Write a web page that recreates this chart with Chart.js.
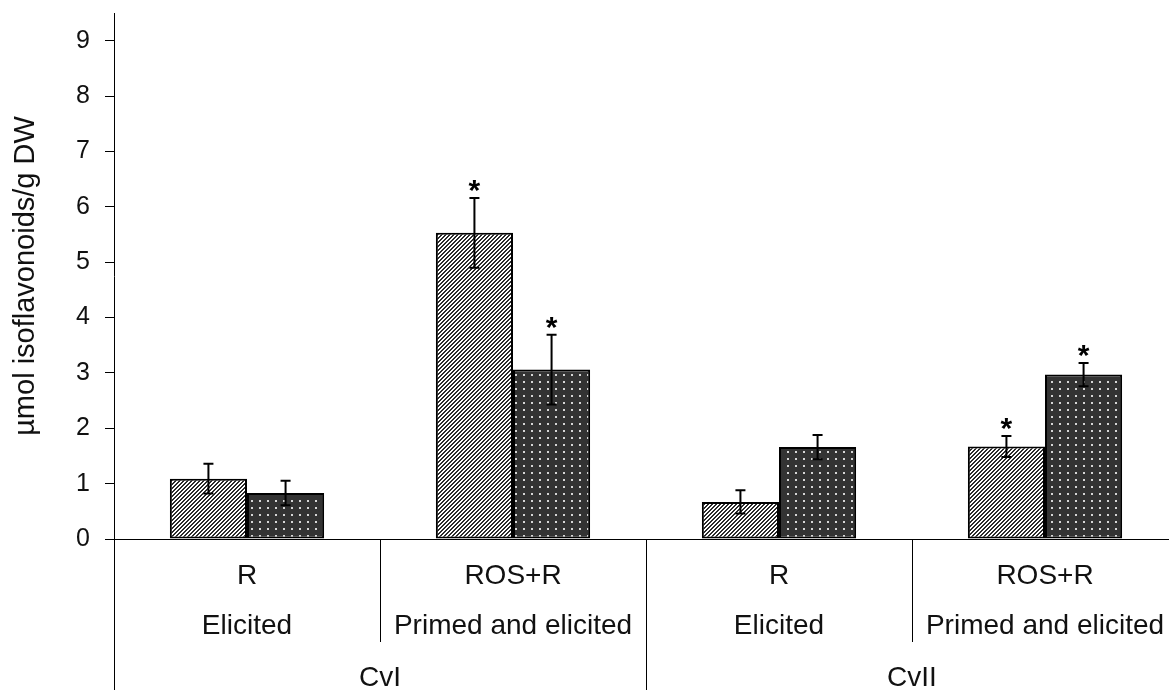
<!DOCTYPE html>
<html><head><meta charset="utf-8">
<script src="https://cdn.jsdelivr.net/npm/chart.js@4"></script>
<style>html,body{margin:0;padding:0;background:#fff;overflow:hidden;width:1169px;height:690px}canvas{display:block}</style>
</head><body>
<canvas id="c" width="1180" height="690" style="width:1180px;height:690px"></canvas>
<script>
const categories = ['R', 'ROS+R', 'R', 'ROS+R'];
const treatments = ['Elicited', 'Primed and elicited', 'Elicited', 'Primed and elicited'];
const cultivars = ['CvI', 'CvII'];
const hatchValues = [1.09, 5.53, 0.67, 1.67];
const hatchErrors = [0.27, 0.63, 0.21, 0.19];
const hatchSignif = [false, true, false, true];
const dotValues = [0.83, 3.06, 1.66, 2.97];
const dotErrors = [0.22, 0.63, 0.22, 0.21];
const dotSignif = [false, true, false, true];
const yTicks = [0, 1, 2, 3, 4, 5, 6, 7, 8, 9];
const yTitle = 'µmol isoflavonoids/g DW';

const FONT = "'Liberation Sans', Arial, sans-serif";

function hatchPattern() {
  const c = document.createElement('canvas'); c.width = 4; c.height = 4;
  const g = c.getContext('2d');
  g.fillStyle = '#fff'; g.fillRect(0, 0, 4, 4);
  g.fillStyle = '#2b2b2b';
  for (let i = 0; i < 4; i++) { g.fillRect(i, 3 - i, 1, 1); g.fillRect((i + 1) % 4, 3 - i, 1, 1); }
  return g.createPattern(c, 'repeat');
}
function dotPattern() {
  const c = document.createElement('canvas'); c.width = 8; c.height = 7;
  const g = c.getContext('2d');
  g.fillStyle = '#333'; g.fillRect(0, 0, 8, 7);
  g.fillStyle = '#d6d6d6'; g.fillRect(3, 3, 2, 2);
  return g.createPattern(c, 'repeat');
}

const errorData = [hatchErrors, dotErrors];
const signifData = [hatchSignif, dotSignif];

const errorPlugin = {
  id: 'errors',
  afterDatasetsDraw(chart) {
    const ctx = chart.ctx, y = chart.scales.y;
    ctx.save();
    chart.data.datasets.forEach((ds, di) => {
      const meta = chart.getDatasetMeta(di);
      meta.data.forEach((el, i) => {
        const v = ds.data[i], e = errorData[di][i];
        const yt = y.getPixelForValue(v + e), yb = y.getPixelForValue(v - e);
        ctx.strokeStyle = '#000'; ctx.lineWidth = 2;
        ctx.beginPath();
        ctx.moveTo(el.x, yt); ctx.lineTo(el.x, yb);
        ctx.moveTo(el.x - 5, yt); ctx.lineTo(el.x + 5, yt);
        ctx.moveTo(el.x - 5, yb); ctx.lineTo(el.x + 5, yb);
        ctx.stroke();
        if (signifData[di][i]) {
          ctx.fillStyle = '#000';
          ctx.font = 'bold 30px ' + FONT;
          ctx.textAlign = 'center'; ctx.textBaseline = 'alphabetic';
          ctx.fillText('*', el.x, yt + 2);
        }
      });
    });
    ctx.restore();
  }
};

const labelPlugin = {
  id: 'grouplabels',
  afterDraw(chart) {
    const ctx = chart.ctx, x = chart.scales.x, ca = chart.chartArea;
    const b = ca.bottom;
    ctx.save();
    ctx.fillStyle = '#111';
    ctx.font = '28px ' + FONT;
    ctx.textAlign = 'center'; ctx.textBaseline = 'alphabetic';
    const centers = categories.map((_, i) => x.getPixelForValue(i));
    categories.forEach((c, i) => ctx.fillText(c, centers[i], b + 45));
    treatments.forEach((t, i) => ctx.fillText(t, centers[i], b + 95));
    cultivars.forEach((c, k) => {
      const cx = (centers[2 * k] + centers[2 * k + 1]) / 2;
      ctx.fillText(c, cx, b + 147);
    });
    ctx.strokeStyle = '#000'; ctx.lineWidth = 1;
    ctx.beginPath();
    ctx.moveTo(ca.left + 0.5, b); ctx.lineTo(ca.left + 0.5, 690);
    for (let k = 1; k < categories.length; k++) {
      const bx = Math.round((centers[k - 1] + centers[k]) / 2) + 0.5;
      const end = (k % 2 === 0) ? 690 : b + 103;
      ctx.moveTo(bx, b); ctx.lineTo(bx, end);
    }
    ctx.stroke();
    ctx.restore();
  }
};

new Chart(document.getElementById('c'), {
  type: 'bar',
  data: {
    labels: categories,
    datasets: [
      { label: 'hatched', data: hatchValues, backgroundColor: hatchPattern(), borderColor: '#000', borderWidth: 2, borderSkipped: false },
      { label: 'dotted', data: dotValues, backgroundColor: dotPattern(), borderColor: '#000', borderWidth: 2, borderSkipped: false }
    ]
  },
  options: {
    responsive: false,
    animation: false,
    devicePixelRatio: 1,
    categoryPercentage: 0.58,
    barPercentage: 1.0,
    layout: { padding: { left: 0, right: 2, top: 13, bottom: 151 } },
    plugins: { legend: { display: false }, tooltip: { enabled: false } },
    scales: {
      x: {
        ticks: { display: false },
        grid: { display: false },
        border: { display: true, color: '#000', width: 1 },
        afterFit(s) { s.height = 0; s.paddingLeft = 0; s.paddingRight = 0; }
      },
      y: {
        min: 0, max: 9.5,
        afterBuildTicks(s) { s.ticks = yTicks.map(v => ({ value: v })); },
        afterFit(s) { s.width = 114; s.paddingTop = 0; s.paddingBottom = 0; },
        ticks: { color: '#111', font: { size: 25, family: FONT }, padding: 15 },
        grid: { display: true, drawOnChartArea: false, drawTicks: true, tickLength: 9, color: '#000' },
        border: { display: true, color: '#000', width: 1 },
        title: { display: true, text: yTitle, color: '#111', font: { size: 29, family: FONT }, padding: { top: 9, bottom: 0 } }
      }
    }
  },
  plugins: [errorPlugin, labelPlugin]
});
</script>
</body></html>
